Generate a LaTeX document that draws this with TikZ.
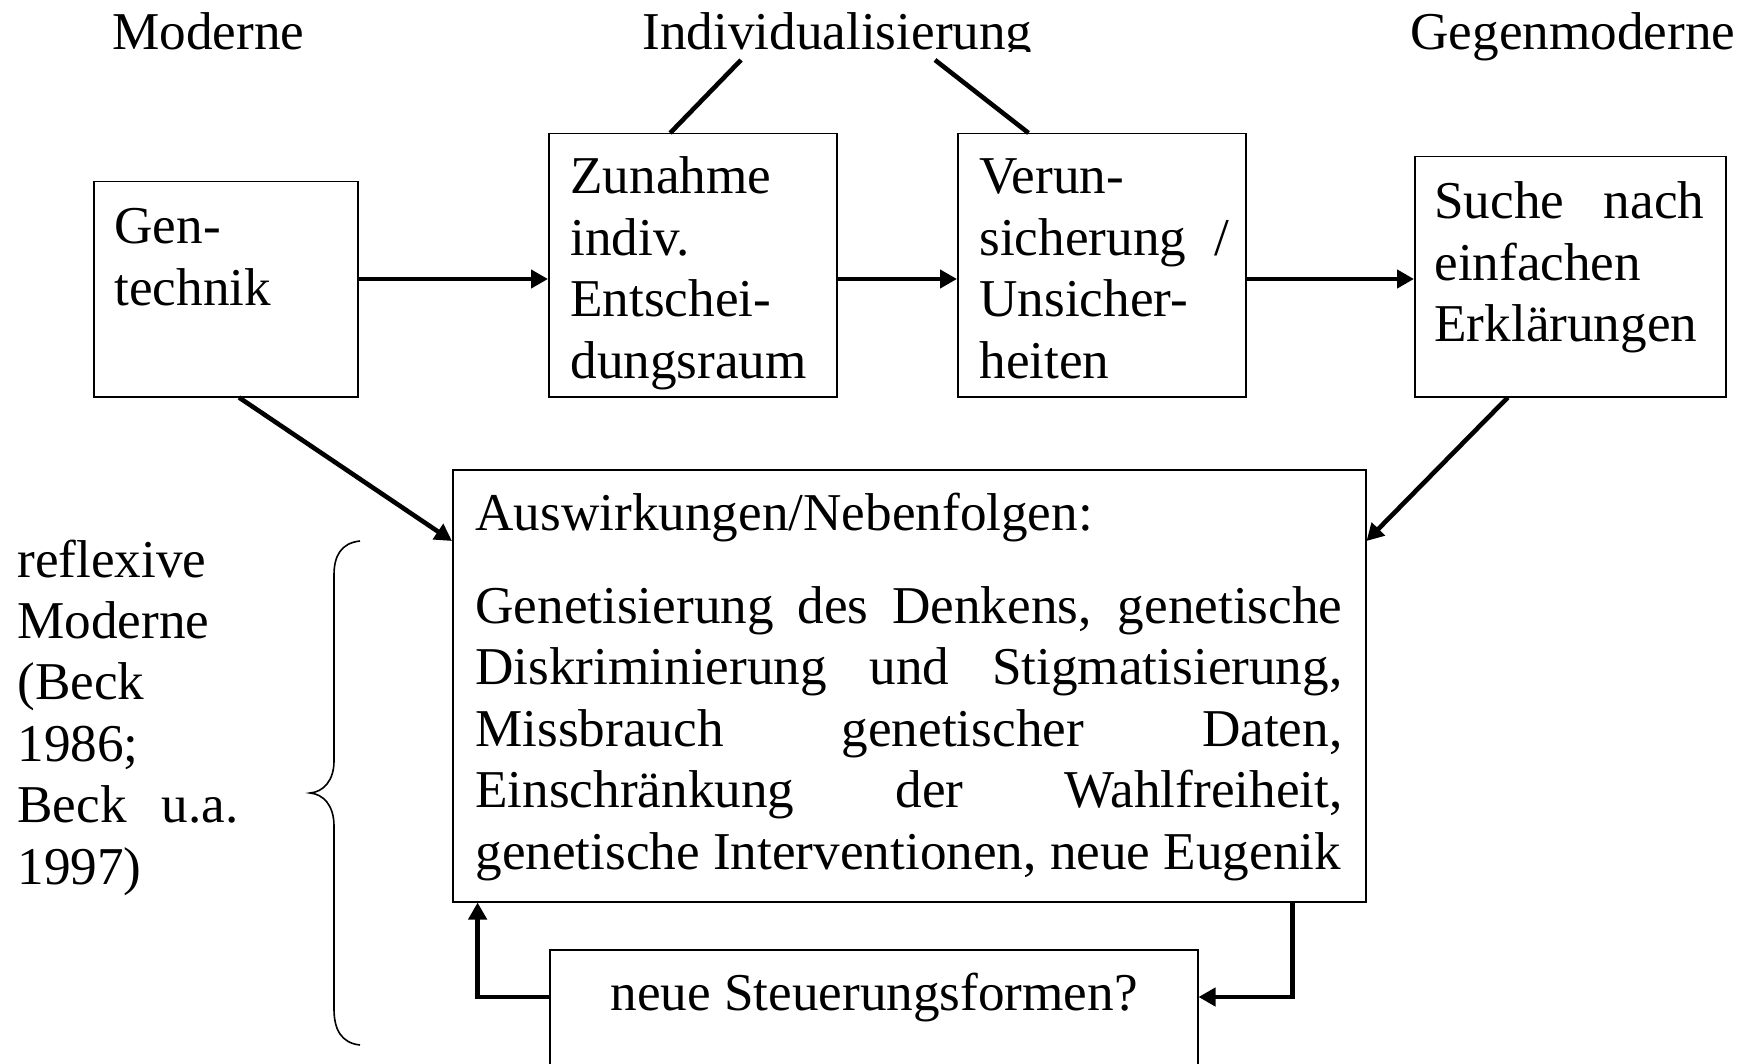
\documentclass[tikz,border=0pt]{standalone}
\usepackage{fontspec}
\setmainfont{Liberation Serif}
\usetikzlibrary{arrows.meta,calc}
\newcommand{\fs}{\fontsize{26.6pt}{30.7pt}\selectfont}
\newcommand{\jl}[1]{\hbox to \hsize{#1}}
\begin{document}
\begin{tikzpicture}[x=0.5pt,y=-0.5pt,
  box/.style={draw, line width=0.75pt, inner sep=0pt, anchor=north west},
  lbl/.style={anchor=base west, inner sep=0pt, font=\fs},
  conn/.style={line width=2.3pt},
  arr/.style={conn, -{Triangle[length=8.5pt,width=9pt]}},
  brace/.style={line width=0.8pt}]
\path[use as bounding box, clip] (0,0) rectangle (1751,1064);
\fill[white] (0,0) rectangle (1751,1064);

% top labels
\node[lbl] (moderne) at (112,50) {Moderne};
\begin{scope}
  \clip (600,0) rectangle (1080,52);
  \node[lbl] (indiv) at (642,50) {Individualisierung};
\end{scope}
\node[lbl] (gegen) at (1410,50) {Gegenmoderne};

% boxes
\node[box, minimum width=132pt, minimum height=107.5pt] (gen) at (93,181) {};
\node[box, minimum width=144pt, minimum height=131.5pt] (zun) at (548,133) {};
\node[box, minimum width=144pt, minimum height=131.5pt] (ver) at (957,133) {};
\node[box, minimum width=155.5pt, minimum height=120pt] (such) at (1414,156) {};
\node[box, minimum width=456.5pt, minimum height=216pt] (big) at (452,469) {};
\node[box, minimum width=324pt, minimum height=80.5pt] (neue) at (549,949) {};

% box texts
\node[lbl] (tgen) at (114,244) {\vtop{\hsize=120pt\fs\hbox{Gen-}\hbox{technik}}};
\node[lbl] (tzun) at (570,194) {\vtop{\hsize=135pt\fs\hbox{Zunahme}\hbox{indiv.}\hbox{Entschei-}\hbox{dungsraum}}};
\node[lbl] (tver) at (979,194) {\vtop{\hsize=125pt\fs\hbox{Verun-}\jl{sicherung /}\hbox{Unsicher-}\hbox{heiten}}};
\node[lbl] (tsuch) at (1434,219) {\vtop{\hsize=135pt\fs\jl{Suche nach}\hbox{einfachen}\hbox{Erklärungen}}};
\node[lbl] (tbig) at (475,530) {\vtop{\hsize=433.5pt\fs
  \hbox{Auswirkungen/Nebenfolgen:}\vskip16pt
  \jl{Genetisierung des Denkens, genetische}
  \jl{Diskriminierung und Stigmatisierung,}
  \jl{Missbrauch genetischer Daten,}
  \jl{Einschränkung der Wahlfreiheit,}
  \hbox{genetische Interventionen, neue Eugenik}}};
\node[lbl] (tneue) at (610,1010) {neue Steuerungsformen?};
\node[lbl] (trefl) at (17,577) {\vtop{\hsize=110.5pt\fs\hbox{reflexive}\hbox{Moderne}\hbox{(Beck}\hbox{1986;}\jl{Beck u.a.}\hbox{1997)}}};

% helper coordinates
\coordinate (h1) at (0,279);
\coordinate (ia) at (741,60);
\coordinate (ib) at (935,60);
\coordinate (fb) at (0,997);

% connectors
\draw[conn] (ia) -- ($(zun.north west)!0.422!(zun.north east)$);
\draw[conn] (ib) -- ($(ver.north west)!0.247!(ver.north east)$);
\draw[arr] (gen.east |- h1) -- (zun.west |- h1);
\draw[arr] (zun.east |- h1) -- (ver.west |- h1);
\draw[arr] (ver.east |- h1) -- (such.west |- h1);
\draw[arr] ($(gen.south west)!0.55!(gen.south east)$) -- ([yshift=-36pt]big.north west);
\draw[arr] ($(such.south west)!0.30!(such.south east)$) -- ([yshift=-36pt]big.north east);
\draw[arr] ($(big.south west)!0.919!(big.south east)$) |- (neue.east |- fb);
\draw[arr] (neue.west |- fb) -| ($(big.south west)!0.028!(big.south east)$);

% brace
\draw[brace] (360,541) .. controls (341,543) and (334,556) .. (334,575)
  -- (334,761) .. controls (334,781) and (323,792) .. (310,793)
  .. controls (323,794) and (334,805) .. (334,826)
  -- (334,1009) .. controls (334,1029) and (341,1043) .. (360,1045);
\end{tikzpicture}
\end{document}
